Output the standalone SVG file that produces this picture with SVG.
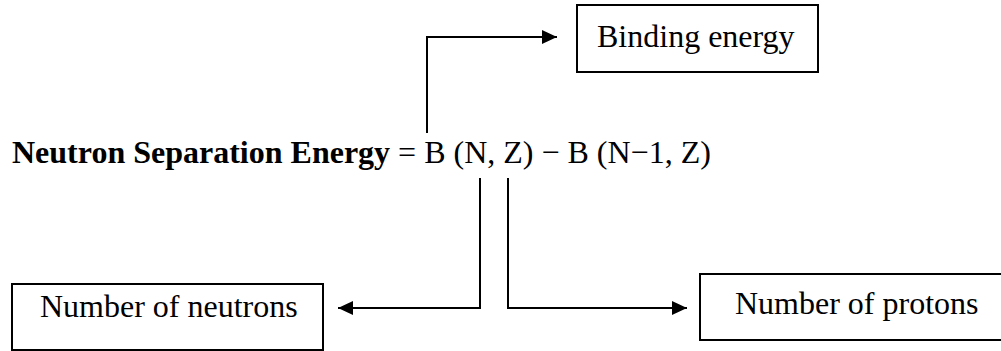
<svg xmlns="http://www.w3.org/2000/svg" width="1001" height="351" viewBox="0 0 1001 351">
<style>
.box{fill:#fff;stroke:#000;stroke-width:2}
.t{font-family:"Liberation Serif","Times New Roman",serif;font-size:32px;fill:#000}
.c{fill:none;stroke:#000;stroke-width:2}
</style>
<defs>
<marker id="ah" markerUnits="userSpaceOnUse" markerWidth="16" markerHeight="14" refX="15" refY="7" orient="auto">
<path d="M0,0 L15,7 L0,14 z" fill="#000"/>
</marker>
</defs>
<rect width="1001" height="351" fill="#fff"/>
<g id="binding">
<rect class="box" x="577" y="5" width="241" height="67"/>
<text class="t" x="597" y="47">Binding energy</text>
</g>
<g id="equation">
<text class="t" x="12" y="163"><tspan font-weight="bold">Neutron Separation Energy</tspan> = B (N, Z) − B (N−1, Z)</text>
</g>
<g id="neutrons">
<rect class="box" x="12" y="284" width="311" height="66"/>
<text class="t" x="40" y="317">Number of neutrons</text>
</g>
<g id="protons">
<rect class="box" x="700" y="274" width="305" height="66"/>
<text class="t" x="735" y="314">Number of protons</text>
</g>
<g id="connectors">
<polyline class="c" points="427,133 427,37 557,37" marker-end="url(#ah)"/>
<polyline class="c" points="480,178 480,308 338,308" marker-end="url(#ah)"/>
<polyline class="c" points="508,178 508,308 687,308" marker-end="url(#ah)"/>
</g>
</svg>
